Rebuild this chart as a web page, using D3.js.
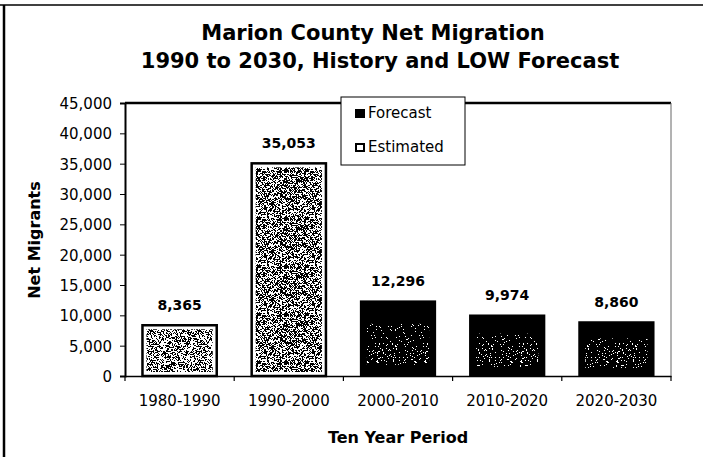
<!DOCTYPE html>
<html><head><meta charset="utf-8">
<script src="https://cdn.jsdelivr.net/npm/d3@7"></script>
<style>body{margin:0;background:#fff}svg{display:block}text{font-family:"DejaVu Sans",sans-serif;fill:#000}</style>
</head><body>
<script>
const categories = ["1980-1990","1990-2000","2000-2010","2010-2020","2020-2030"];
const values = [8365, 35053, 12296, 9974, 8860];
const types = ["Estimated","Estimated","Forecast","Forecast","Forecast"];
const yTicks = [0,5000,10000,15000,20000,25000,30000,35000,40000,45000];
const legendItems = ["Forecast","Estimated"];

const W=703,H=457;
const m={left:125,right:703-671,top:103,bottom:457-376};
const svg=d3.select("body").append("svg").attr("width",W).attr("height",H);
const defs=svg.append("defs");

// texture patterns (pure styling, deterministic hash)
function hash(i,j,s){
  let h=Math.imul(i,374761393)+Math.imul(j,668265263)+Math.imul(s,2246822519);
  h=Math.imul(h^(h>>>13),1274126177); h=h^(h>>>16);
  return (h>>>0)%1000;
}
function noisePattern(id,size,bg,fg,thr,seed){
  const p=defs.append("pattern").attr("id",id).attr("patternUnits","userSpaceOnUse").attr("width",size).attr("height",size);
  if(bg) p.append("rect").attr("width",size).attr("height",size).attr("fill",bg);
  let path="";
  for(let i=0;i<size;i++)for(let j=0;j<size;j++){
    if(hash(i,j,seed)<thr) path+=`M${i},${j}h1v1h-1z`;
  }
  p.append("path").attr("d",path).attr("fill",fg);
}
noisePattern("est",48,"#fff","#000",430,1);
noisePattern("est2",48,"#fff","#000",520,2);
noisePattern("spk",48,null,"#fff",70,3);

// outer frame
svg.append("line").attr("x1",4).attr("x2",4).attr("y1",5).attr("y2",H).attr("stroke","#000").attr("stroke-width",2.5);
svg.append("line").attr("x1",0).attr("x2",W).attr("y1",5).attr("y2",5).attr("stroke","#000").attr("stroke-width",1.5);

svg.append("text").attr("x",373).attr("y",40).attr("text-anchor","middle").attr("font-size",21).attr("font-weight","bold").text("Marion County Net Migration");
svg.append("text").attr("x",380).attr("y",68).attr("text-anchor","middle").attr("font-size",21).attr("font-weight","bold").text("1990 to 2030, History and LOW Forecast");

const x=d3.scaleBand().domain(categories).range([m.left,W-m.right]).paddingInner(0.32).paddingOuter(0.16);
const y=d3.scaleLinear().domain([0,45000]).range([H-m.bottom,m.top]);

// plot frame
svg.append("line").attr("x1",m.left).attr("x2",W-m.right).attr("y1",m.top).attr("y2",m.top).attr("stroke","#000").attr("stroke-width",2.5);
svg.append("line").attr("x1",W-m.right).attr("x2",W-m.right).attr("y1",m.top).attr("y2",H-m.bottom).attr("stroke","#666").attr("stroke-width",1);

const gy=svg.append("g").attr("transform",`translate(${m.left},0)`).call(d3.axisLeft(y).tickValues(yTicks).tickFormat(d3.format(",")).tickSize(5).tickPadding(8));
gy.selectAll("text").attr("font-size",15).attr("fill","#000").style("font-family","DejaVu Sans").attr("dy","0.36em");
gy.select(".domain").attr("stroke-width",2);
const gx=svg.append("g").attr("transform",`translate(0,${H-m.bottom})`).call(d3.axisBottom(x).tickSize(0).tickPadding(19));
gx.selectAll("text").attr("font-size",15).attr("fill","#000").style("font-family","DejaVu Sans");
gx.select(".domain").attr("stroke-width",1.5);
const bw=(W-m.left-m.right)/categories.length;
svg.append("g").selectAll("line").data(d3.range(categories.length+1)).join("line")
  .attr("x1",i=>m.left+i*bw).attr("x2",i=>m.left+i*bw)
  .attr("y1",H-m.bottom).attr("y2",H-m.bottom+5).attr("stroke","#000").attr("stroke-width",1.2);

const bars=svg.append("g");
values.forEach((d,i)=>{
  const bx=x(categories[i]), by=y(d), bh=y(0)-y(d), w=x.bandwidth();
  if(types[i]==="Estimated"){
    bars.append("rect").attr("x",bx).attr("y",by).attr("width",w).attr("height",bh).attr("fill","#fff").attr("stroke","#000").attr("stroke-width",2.5);
    bars.append("rect").attr("x",bx+4).attr("y",by+4).attr("width",w-8).attr("height",bh-8).attr("fill",i===0?"url(#est)":"url(#est2)");
  } else {
    bars.append("rect").attr("x",bx).attr("y",by).attr("width",w).attr("height",bh).attr("fill","#000").attr("stroke","#000").attr("stroke-width",2);
    bars.append("rect").attr("x",bx+6).attr("y",by+bh*0.3).attr("width",w-12).attr("height",bh*0.55).attr("fill","url(#spk)");
  }
});
svg.append("g").selectAll("text").data(values).join("text")
  .attr("x",(d,i)=>x(categories[i])+x.bandwidth()/2).attr("y",d=>y(d)-15)
  .attr("text-anchor","middle").attr("font-size",14).attr("font-weight","bold").text(d3.format(","));

svg.append("text").attr("transform","translate(40,240) rotate(-90)").attr("text-anchor","middle").attr("font-size",16).attr("font-weight","bold").text("Net Migrants");
svg.append("text").attr("x",398).attr("y",443).attr("text-anchor","middle").attr("font-size",16).attr("font-weight","bold").text("Ten Year Period");

// legend
const lg=svg.append("g");
lg.append("rect").attr("x",341).attr("y",97).attr("width",124).attr("height",68).attr("fill","#fff").attr("stroke","#000").attr("stroke-width",1);
legendItems.forEach((t,i)=>{
  const yy=115+i*34;
  lg.append("rect").attr("x",356).attr("y",yy-5).attr("width",8).attr("height",7).attr("fill",t==="Forecast"?"#000":"#fff").attr("stroke","#000").attr("stroke-width",2);
  lg.append("text").attr("x",368).attr("y",yy+3).attr("font-size",15).text(t);
});
</script>
</body></html>
